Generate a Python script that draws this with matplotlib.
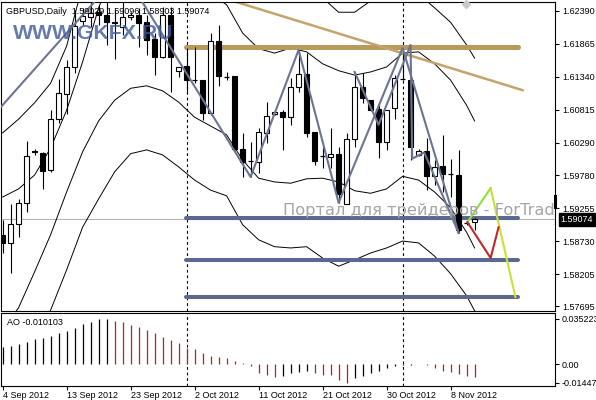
import matplotlib
matplotlib.use("Agg")
import matplotlib.pyplot as plt
import matplotlib.transforms as mtransforms
from matplotlib.patches import Rectangle

plt.rcParams['font.family'] = ['Liberation Sans', 'DejaVu Sans']

# daily GBPUSD bars, 4 Sep 2012 .. 12 Nov 2012 (Sunday bars included)
opens = [1.58826, 1.58699, 1.59001, 1.59335, 1.60155, 1.60131, 1.59861, 1.60672, 1.61069, 1.61499,
         1.62231, 1.62295, 1.62374, 1.62326, 1.62215, 1.62135, 1.62295, 1.62326, 1.62215, 1.61945,
         1.61658, 1.62326, 1.61435, 1.61515, 1.61292, 1.61292, 1.60767, 1.61913, 1.61340, 1.61356,
         1.60194, 1.60004, 1.59988, 1.60449, 1.60751, 1.60783, 1.60704, 1.61181, 1.61388, 1.60465,
         1.60083, 1.60067, 1.60115, 1.59320, 1.60354, 1.61181, 1.60974, 1.60831, 1.60306, 1.60847,
         1.61308, 1.61292, 1.60099, 1.60163, 1.59765, 1.59924, 1.59797, 1.59781, 1.59017, 1.59029]
highs = [1.59065, 1.59320, 1.59399, 1.60322, 1.60194, 1.60147, 1.60815, 1.61308, 1.61610, 1.62406,
         1.62438, 1.62724, 1.62485, 1.62645, 1.62406, 1.63042, 1.62374, 1.62438, 1.62326, 1.62040,
         1.62454, 1.62454, 1.61499, 1.61801, 1.61817, 1.61292, 1.62040, 1.62167, 1.61420, 1.61356,
         1.60449, 1.60306, 1.60529, 1.60942, 1.60799, 1.60815, 1.61324, 1.61770, 1.61722, 1.60465,
         1.60226, 1.60529, 1.60226, 1.60449, 1.61420, 1.61404, 1.60974, 1.60926, 1.60815, 1.61372,
         1.61801, 1.61292, 1.60194, 1.60369, 1.60020, 1.60417, 1.60035, 1.60179, 1.59033, 1.59096]
lows = [1.58540, 1.58222, 1.58795, 1.59192, 1.60099, 1.59558, 1.59829, 1.60608, 1.60751, 1.61404,
        1.62167, 1.62135, 1.62167, 1.61849, 1.61626, 1.62008, 1.62247, 1.61817, 1.61690, 1.61372,
        1.61642, 1.61101, 1.61340, 1.61085, 1.61245, 1.60656, 1.60735, 1.61197, 1.61292, 1.60179,
        1.59749, 1.59749, 1.59813, 1.60290, 1.60735, 1.60179, 1.60576, 1.61101, 1.60385, 1.59940,
        1.59893, 1.59893, 1.59335, 1.59320, 1.60226, 1.60926, 1.60799, 1.60051, 1.60179, 1.60672,
        1.61292, 1.60020, 1.60083, 1.59542, 1.59622, 1.59510, 1.59431, 1.58858, 1.58985, 1.58903]
closes = [1.58699, 1.59001, 1.59335, 1.60083, 1.60139, 1.59845, 1.60672, 1.61085, 1.61499, 1.62151,
          1.62310, 1.62358, 1.62326, 1.62215, 1.62199, 1.62295, 1.62326, 1.62199, 1.61929, 1.61658,
          1.62326, 1.61658, 1.61499, 1.61292, 1.61292, 1.60767, 1.61913, 1.61356, 1.61340, 1.60194,
          1.59988, 1.60004, 1.60465, 1.60719, 1.60783, 1.60704, 1.61181, 1.61388, 1.60449, 1.60004,
          1.60083, 1.60115, 1.59479, 1.60354, 1.61181, 1.61006, 1.60815, 1.60306, 1.60815, 1.61324,
          1.61308, 1.60226, 1.60163, 1.59765, 1.59908, 1.59797, 1.59797, 1.58906, 1.59017, 1.59074]

# Awesome Oscillator
ao = [0.0135, 0.0141, 0.0154, 0.0170, 0.0193, 0.0201, 0.0222, 0.0245, 0.0261, 0.0280,
      0.0313, 0.0331, 0.0350, 0.035223, 0.0339, 0.0327, 0.0305, 0.0287, 0.0266, 0.0245,
      0.0214, 0.0188, 0.0162, 0.0123, 0.0115, 0.0088, 0.0063, 0.0057, 0.0045, 0.0023,
      0.0005, -0.0016, -0.0068, -0.0086, -0.0099, -0.0094, -0.0073, -0.0062, -0.0057, -0.0073,
      -0.0086, -0.0089, -0.0125, -0.01447, -0.0112, -0.0092, -0.0073, -0.0055, -0.0034, -0.0016,
      -0.0008, -0.0004, -0.0003, -0.0006, -0.0028, -0.0058, -0.0066, -0.0082, -0.0092, -0.010103]

# band lines read every second bar
band_x = list(range(0, 60, 2)) + [59]
band_a = [1.6045, 1.6067, 1.6093, 1.6124, 1.6183, 1.6280, 1.6352, 1.6416, 1.6428, 1.6428,
          1.6416, 1.6400, 1.6376, 1.6355, 1.6328, 1.6304, 1.6288, 1.6279, 1.6269, 1.6263,
          1.6260, 1.6237, 1.6237, 1.6255, 1.6266, 1.6276, 1.6266, 1.6244, 1.6221, 1.6185, 1.6164]
band_b = [1.5943, 1.5956, 1.5978, 1.6021, 1.6081, 1.6158, 1.6244, 1.6307, 1.6328, 1.6328,
          1.6317, 1.6301, 1.6284, 1.6266, 1.6249, 1.6204, 1.6179, 1.6172, 1.6180, 1.6174,
          1.6155, 1.6144, 1.6137, 1.6142, 1.6150, 1.6172, 1.6174, 1.6155, 1.6129, 1.6089, 1.6064]
band_c = [1.5731, 1.5767, 1.5824, 1.5883, 1.5951, 1.6015, 1.6064, 1.6097, 1.6116, 1.6120,
          1.6112, 1.6094, 1.6070, 1.6056, 1.6042, 1.6002, 1.5973, 1.5967, 1.5965, 1.5972,
          1.5973, 1.5967, 1.5953, 1.5949, 1.5956, 1.5976, 1.5970, 1.5951, 1.5926, 1.5887, 1.5862]
band_d = [1.5628, 1.5665, 1.5716, 1.5763, 1.5827, 1.5895, 1.5940, 1.5983, 1.6012, 1.6018,
          1.6010, 1.5991, 1.5970, 1.5954, 1.5945, 1.5899, 1.5875, 1.5864, 1.5862, 1.5864,
          1.5846, 1.5833, 1.5843, 1.5854, 1.5862, 1.5873, 1.5870, 1.5849, 1.5821, 1.5786, 1.5762]

# zigzags
zz1_x = [-0.3, 15, 31, 37, 42, 50, 57]
zz1_y = [1.6085, 1.6304, 1.5975, 1.6177, 1.5934, 1.6180, 1.5886]
zz2_x = [44, 47, 51, 51.2, 52.7, 57]
zz2_y = [1.6142, 1.6058, 1.6185, 1.6004, 1.6014, 1.5886]

# drawn objects
resist_level = 1.6181
support_levels = [1.5910, 1.5843, 1.5784]
level_span = [22.9, 64.4]
trend_x = [27, 65]
trend_y = [1.6262, 1.6113]
green_x = [58.1, 61, 64.1]
green_y = [1.5903, 1.5957, 1.5784]
red_x = [58.1, 61, 62]
red_y = [1.5903, 1.5846, 1.5895]
marker_pos = (57.9, 1.6250)

price_ticks = [1.62390, 1.61865, 1.61340, 1.60815, 1.60290, 1.59780, 1.59255, 1.58730, 1.58205, 1.57695]
last_price = 1.59074
separators = [23, 50]
date_pos = [0, 8, 16, 24, 32, 40, 48, 56]
date_labels = ['4 Sep 2012', '13 Sep 2012', '23 Sep 2012', '2 Oct 2012',
               '11 Oct 2012', '21 Oct 2012', '30 Oct 2012', '8 Nov 2012']
ao_ticks = [0.035223, 0.0, -0.01447]
ao_labels = ['0.035223', '0.00', '-0.01447']

W, H = 596, 400
fig = plt.figure(figsize=(W / 100, H / 100), dpi=100)
fig.patch.set_facecolor('white')
ax = fig.add_axes([1 / W, 1 - 311 / H, 554 / W, 309 / H])
ax2 = fig.add_axes([1 / W, 1 - 386 / H, 554 / W, 73 / H])

xlim = (-0.2, 69.05)
fs = 6.5

# ---- main panel ----
for i in range(len(opens)):
    o, h, l, c = opens[i], highs[i], lows[i], closes[i]
    ax.vlines(i, l, h, color='black', lw=0.8, zorder=3)
    if abs(c - o) < 0.00005:
        ax.hlines(o, i - 0.3, i + 0.3, color='black', lw=0.9, zorder=4)
    else:
        fc = 'white' if c > o else 'black'
        ax.add_patch(Rectangle((i - 0.28, min(o, c)), 0.56, abs(c - o),
                               facecolor=fc, edgecolor='black', lw=0.8, zorder=4))

for band in (band_a, band_b, band_c, band_d):
    ax.plot(band_x, band, color='black', lw=0.7, zorder=2)

ax.plot(zz1_x, zz1_y, color='#6b7591', lw=1.5, zorder=5)
ax.plot(zz2_x, zz2_y, color='#6b7591', lw=1.5, zorder=5)

ax.hlines(resist_level, level_span[0], level_span[1], color='#b89a5e', lw=3.6,
          capstyle='round', zorder=2)
ax.plot(trend_x, trend_y, color='#c2a46c', lw=1.8, zorder=2)
for lv in support_levels:
    ax.hlines(lv, level_span[0], level_span[1], color='#5b6991', lw=2.9,
              capstyle='round', zorder=2)

ax.axhline(last_price, color='#b4b4b4', lw=0.8, zorder=1)

ax.plot(green_x[:2], green_y[:2], color='#8fe03c', lw=1.5, zorder=6)
ax.plot(green_x[1:], green_y[1:], color='#c6e234', lw=1.5, zorder=6)
ax.plot(red_x, red_y, color='#c0282d', lw=1.5, zorder=6)
ax.plot(*marker_pos, marker='D', ms=4, color='#c8c8c8', zorder=6, clip_on=False)

for s in separators:
    ax.axvline(s, color='black', lw=0.8, ls=(0, (2.5, 2.5)), zorder=1)
    ax2.axvline(s, color='black', lw=0.8, ls=(0, (2.5, 2.5)), zorder=1)

ax.set_xlim(*xlim)
ax.set_ylim(1.57617, 1.62533)
ax.set_xticks([])
ax.yaxis.tick_right()
ax.set_yticks(price_ticks)
ax.set_yticklabels([f'{p:.5f}' for p in price_ticks], fontsize=fs)
ax.tick_params(axis='y', length=3, width=0.8, pad=2)

blend = mtransforms.blended_transform_factory(ax.transAxes, ax.transData)
ax.plot([1.0, 1.0], [1.59447, 1.59272], transform=blend, color='black', lw=2.2,
        clip_on=False, zorder=10)
ax.text(1.0105, last_price, f'{last_price:.5f}', transform=blend, ha='left', va='center',
        fontsize=fs, color='white', zorder=10, clip_on=False,
        bbox=dict(facecolor='black', edgecolor='black', pad=1.2))

ax.text(0.009, 0.985, 'GBPUSD,Daily  1.59029 1.59096 1.58903 1.59074', transform=ax.transAxes,
        ha='left', va='top', fontsize=fs, color='black', zorder=10)
ax.text(0.022, 0.93, 'WWW.GKFX.RU', transform=ax.transAxes, ha='left', va='top',
        fontsize=15.3, fontweight='bold', family=['Liberation Sans'],
        color='#3f5a9a', alpha=0.8, zorder=9)
ax.text(35.0, 1.5914, 'Портал для трейдеров - ForTrade', ha='left', va='baseline',
        fontsize=11.7, color='#a6a6a6', family=['DejaVu Sans'], zorder=7, clip_on=True)

# ---- AO panel ----
cols = ['black']
for k in range(1, len(ao)):
    cols.append('black' if ao[k] >= ao[k - 1] else '#b22222')
ax2.vlines(range(len(ao)), 0, ao, colors=cols, lw=0.9, zorder=3)
ax2.set_xlim(*xlim)
ax2.set_ylim(-0.0172, 0.0399)
ax2.yaxis.tick_right()
ax2.set_yticks(ao_ticks)
ax2.set_yticklabels(ao_labels, fontsize=fs)
ax2.tick_params(axis='y', length=3, width=0.8, pad=2)
ax2.set_xticks(date_pos)
ax2.set_xticklabels(date_labels, fontsize=fs, ha='left')
ax2.tick_params(axis='x', length=3, width=0.8, pad=0.5)
ax2.text(0.01, 0.93, 'AO -0.010103', transform=ax2.transAxes, ha='left', va='top',
         fontsize=fs, color='black', zorder=10)

for a in (ax, ax2):
    for sp in a.spines.values():
        sp.set_linewidth(0.8)
        sp.set_color('black')

fig.savefig('out.png', dpi=100)
